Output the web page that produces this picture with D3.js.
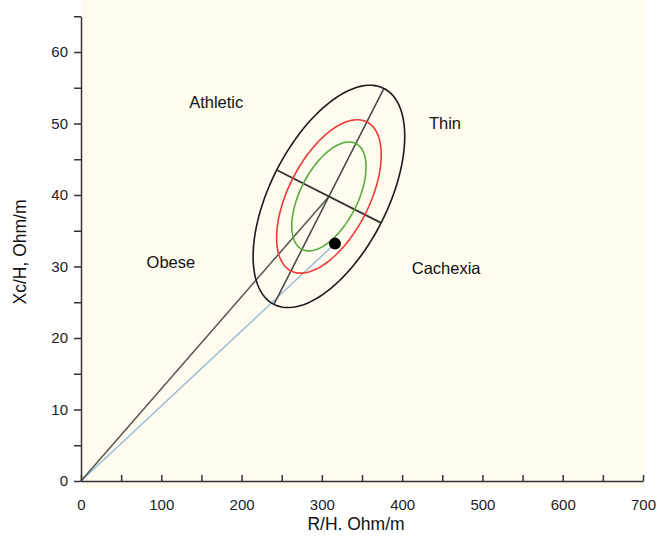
<!DOCTYPE html>
<html>
<head>
<meta charset="utf-8">
<script src="https://cdn.jsdelivr.net/npm/d3@7"></script>
<style>
  body { margin: 0; background: #fff; }
  svg { display: block; font-family: "Liberation Sans", Arial, sans-serif; }
  .axis path, .axis line { stroke: #333; stroke-width: 1.5; }
  .axis text { font-size: 15px; fill: #222; font-family: "Liberation Sans", Arial, sans-serif; }
</style>
</head>
<body>
<script>
// tick values
var xTicks = [0, 50, 100, 150, 200, 250, 300, 350, 400, 450, 500, 550, 600, 650, 700];
var yTicks = [0, 5, 10, 15, 20, 25, 30, 35, 40, 45, 50, 55, 60, 65];

// ellipse: centre and conjugate half-axes (R/H, Xc/H)
var ellipseCenter = [308.8, 39.8];
var majorHalf = [68.5, 15.1];
var minorHalf = [65, -3.7];
// tolerance ellipses 50%, 75%, 95%, relative size
var ellipseNames = ["50%", "75%", "95%"];
var ellipseScale = [0.49, 0.69, 1.0];
var ellipseColors = ["#5aab3c", "#ec3a3a", "#1a1a1a"];

// the measured point
var subject = [316.3, 33.2];

// zone labels
var zoneNames = ["Athletic", "Thin", "Obese", "Cachexia"];
var zoneX = [168.4, 453.3, 112, 454.8];
var zoneY = [53.0, 50.0, 30.6, 29.8];

var W = 657, H = 536;
var svg = d3.select("body").append("svg").attr("width", W).attr("height", H);

var x = d3.scaleLinear().domain([0, 700]).range([81, 643]);
var y = d3.scaleLinear().domain([0, 65]).range([481, 16.25]);

// cream plot background
svg.append("rect")
  .attr("x", 82).attr("y", 0)
  .attr("width", 645 - 82).attr("height", 489)
  .attr("fill", "#fdfcef");

// ellipses
function ellipsePts(s) {
  var pts = [];
  for (var i = 0; i <= 120; i++) {
    var t = i / 120 * 2 * Math.PI;
    pts.push([
      ellipseCenter[0] + s * (Math.cos(t) * majorHalf[0] + Math.sin(t) * minorHalf[0]),
      ellipseCenter[1] + s * (Math.cos(t) * majorHalf[1] + Math.sin(t) * minorHalf[1])
    ]);
  }
  return pts;
}
var line = d3.line().x(d => x(d[0])).y(d => y(d[1]));

// line from origin to the centre (dark) and to the subject (blue)
svg.append("path")
  .attr("d", line([[0, 0], subject]))
  .attr("stroke", "#9dbbd9").attr("stroke-width", 1.5).attr("fill", "none");
svg.append("path")
  .attr("d", line([[0, 0], ellipseCenter]))
  .attr("stroke", "#555").attr("stroke-width", 1.5).attr("fill", "none");

// cross lines of the outer ellipse
svg.append("path")
  .attr("d", line([[ellipseCenter[0] - majorHalf[0], ellipseCenter[1] - majorHalf[1]],
                   [ellipseCenter[0] + majorHalf[0], ellipseCenter[1] + majorHalf[1]]]))
  .attr("stroke", "#444").attr("stroke-width", 1.5).attr("fill", "none");
svg.append("path")
  .attr("d", line([[ellipseCenter[0] - minorHalf[0], ellipseCenter[1] - minorHalf[1]],
                   [ellipseCenter[0] + minorHalf[0], ellipseCenter[1] + minorHalf[1]]]))
  .attr("stroke", "#333").attr("stroke-width", 1.8).attr("fill", "none");

svg.selectAll(".ell")
  .data(ellipseNames)
  .enter().append("path")
  .attr("class", "ell")
  .attr("d", (d, i) => line(ellipsePts(ellipseScale[i])))
  .attr("stroke", (d, i) => ellipseColors[i])
  .attr("stroke-width", 1.6)
  .attr("fill", "none");

svg.append("circle")
  .attr("cx", x(subject[0])).attr("cy", y(subject[1]))
  .attr("r", 6).attr("fill", "#000");

// zone labels
svg.selectAll(".zone")
  .data(zoneNames)
  .enter().append("text")
  .attr("class", "zone")
  .attr("x", (d, i) => x(zoneX[i]))
  .attr("y", (d, i) => y(zoneY[i]))
  .attr("dy", "0.35em")
  .attr("text-anchor", "middle")
  .style("font-size", "16.5px")
  .attr("fill", "#111")
  .text(d => d);

// axes
svg.append("g")
  .attr("class", "axis")
  .attr("transform", "translate(0," + y(0) + ")")
  .call(d3.axisBottom(x).tickValues(xTicks).tickSize(-6).tickSizeOuter(0).tickPadding(18)
    .tickFormat(d => d % 100 === 0 ? d : ""));
svg.append("g")
  .attr("class", "axis")
  .attr("transform", "translate(" + x(0) + ",0)")
  .call(d3.axisLeft(y).tickValues(yTicks).tickSize(7).tickSizeOuter(0).tickPadding(6)
    .tickFormat(d => d % 10 === 0 ? d : ""));

svg.append("text")
  .attr("x", 356).attr("y", 530)
  .attr("text-anchor", "middle")
  .style("font-size", "17.5px").attr("fill", "#111")
  .text("R/H. Ohm/m");
svg.append("text")
  .attr("transform", "translate(26,252) rotate(-90)")
  .attr("text-anchor", "middle")
  .style("font-size", "17.5px").attr("fill", "#111")
  .text("Xc/H, Ohm/m");
</script>
</body>
</html>
